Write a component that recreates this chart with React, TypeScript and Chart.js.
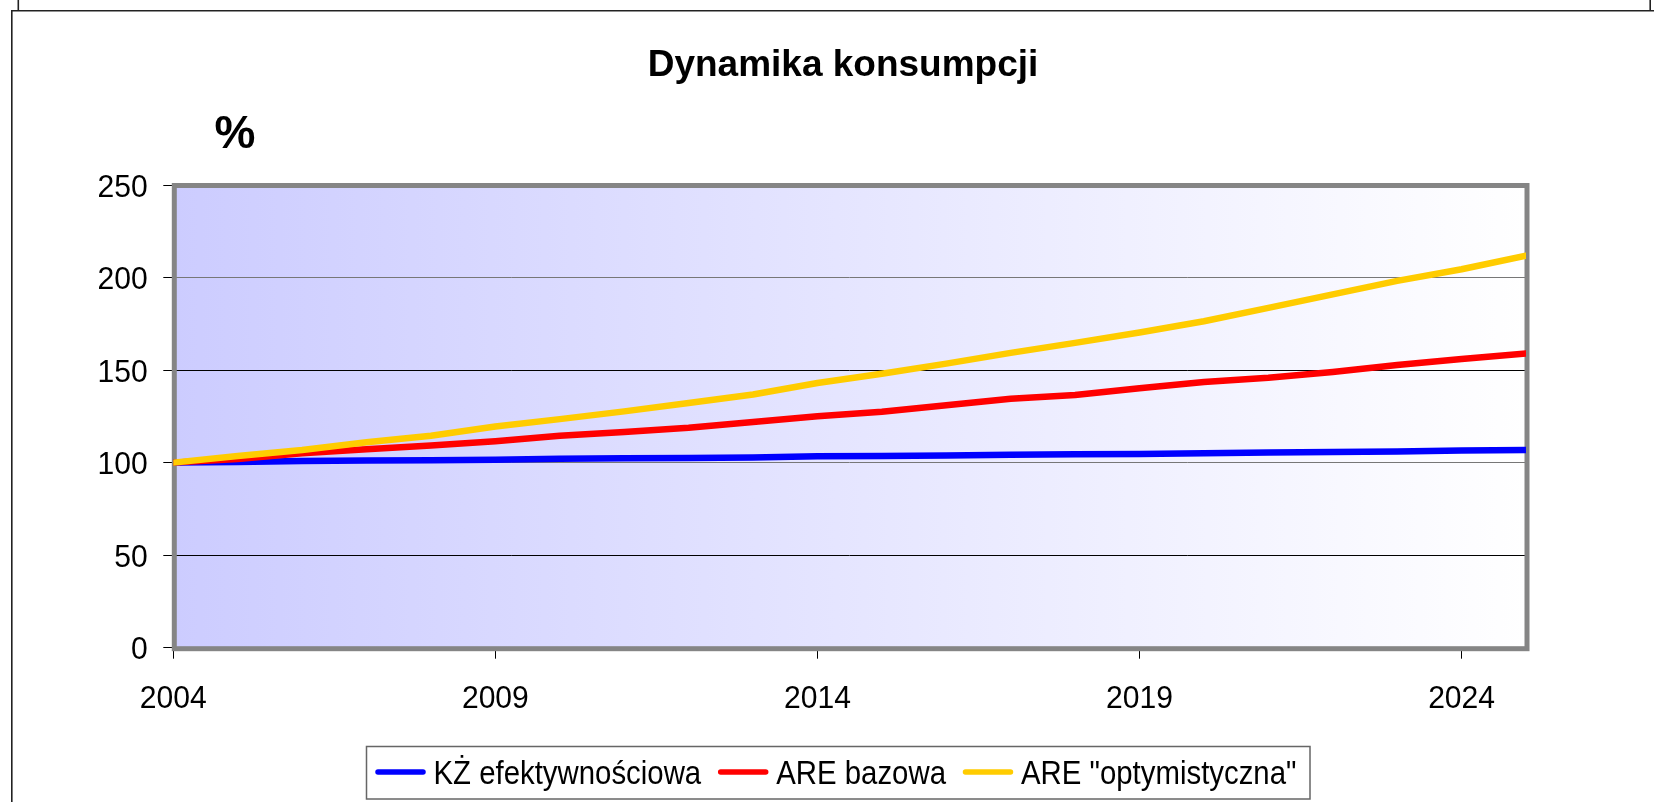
import React, { useEffect, useRef } from 'react';
import { Chart, registerables } from 'chart.js';

Chart.register(...registerables);

// ---------- data ----------
const years = [2004, 2005, 2006, 2007, 2008, 2009, 2010, 2011, 2012, 2013, 2014, 2015, 2016, 2017, 2018, 2019, 2020, 2021, 2022, 2023, 2024, 2025];
const kzEfektywnosciowa = [100.0, 100.3, 100.9, 101.1, 101.3, 101.5, 102.1, 102.3, 102.5, 102.8, 103.4, 103.6, 103.8, 104.2, 104.5, 104.7, 105.0, 105.5, 105.7, 106.0, 106.6, 106.8];
const areBazowa = [100.0, 102.0, 105.0, 107.2, 109.2, 111.5, 114.5, 116.5, 118.8, 122.0, 125.0, 127.5, 131.0, 134.5, 136.5, 140.2, 143.5, 145.8, 149.0, 152.7, 156.0, 159.0];
const areOptymistyczna = [100.0, 103.6, 106.8, 111.0, 114.5, 119.5, 123.5, 127.7, 132.2, 136.8, 143.0, 148.0, 153.5, 159.3, 164.7, 170.3, 176.4, 183.6, 190.9, 198.2, 204.5, 211.8];

const xTickYears = [2004, 2009, 2014, 2019, 2024];
const yTickValues = [0, 50, 100, 150, 200, 250];

const TITLE = 'Dynamika konsumpcji';
const UNIT_LABEL = '%';
const seriesLabels = ['KŻ efektywnościowa', 'ARE bazowa', 'ARE "optymistyczna"'];
const seriesColors = ['#0000FF', '#FF0000', '#FFCC00'];

const FONT = '"Liberation Sans", Arial, Helvetica, sans-serif';

const W = 1654;
const H = 802;

function condensedText(ctx: any, text: string, x: number, y: number, align: 'left' | 'right' | 'center', sx: number) {
  const w = ctx.measureText(text).width * sx;
  let left = x;
  if (align === 'right') left = x - w;
  else if (align === 'center') left = x - w / 2;
  ctx.save();
  ctx.translate(left, y);
  ctx.scale(sx, 1);
  ctx.textAlign = 'left';
  ctx.fillText(text, 0, 0);
  ctx.restore();
  return w;
}

const decorPlugin = {
  id: 'decor',
  beforeDraw(chart: any) {
    const { ctx, chartArea: a } = chart;
    ctx.save();
    ctx.fillStyle = '#ffffff';
    ctx.fillRect(0, 0, chart.width, chart.height);
    const g = ctx.createLinearGradient(a.left, 0, a.right, 0);
    g.addColorStop(0, '#CCCCFF');
    g.addColorStop(1, '#FFFFFF');
    ctx.fillStyle = g;
    ctx.fillRect(a.left, a.top, a.right - a.left, a.bottom - a.top);
    ctx.restore();
  },
  beforeDatasetsDraw(chart: any) {
    const { ctx, chartArea: a } = chart;
    ctx.save();
    ctx.strokeStyle = '#858585';
    ctx.lineWidth = 5;
    ctx.strokeRect(a.left + 1, a.top + 0.5, a.right - a.left, a.bottom - a.top + 0.5);
    ctx.restore();
  },
  afterDraw(chart: any) {
    const { ctx, chartArea: a } = chart;
    ctx.save();
    // outer frame
    ctx.strokeStyle = '#222';
    ctx.lineWidth = 1.6;
    ctx.beginPath();
    ctx.moveTo(11, 10.8);
    ctx.lineTo(W, 10.8);
    ctx.moveTo(11.8, 10.8);
    ctx.lineTo(11.8, H);
    ctx.moveTo(18.3, 0);
    ctx.lineTo(18.3, 10.8);
    ctx.moveTo(1650.2, 0);
    ctx.lineTo(1650.2, 10.8);
    ctx.stroke();

    ctx.fillStyle = '#000';
    ctx.textBaseline = 'alphabetic';

    // tick labels (from the scales' ticks)
    ctx.font = `32px ${FONT}`;
    const ys = chart.scales.y;
    ys.ticks.forEach((t: any) => {
      const py = ys.getPixelForValue(t.value);
      condensedText(ctx, String(t.value), a.left - 25.5, py + 11.5, 'right', 0.94);
    });
    const xs = chart.scales.x;
    xs.ticks.forEach((t: any) => {
      const px = xs.getPixelForValue(t.value);
      condensedText(ctx, String(t.value), px, 707.5, 'center', 0.94);
    });

    // title
    ctx.font = `bold 37px ${FONT}`;
    condensedText(ctx, TITLE, 843, 76, 'center', 1);

    // unit label
    ctx.font = `bold 46px ${FONT}`;
    condensedText(ctx, UNIT_LABEL, 214.5, 148, 'left', 1);

    // legend
    const boxL = 366.5, boxT = 746.5, boxR = 1310, boxB = 799;
    ctx.fillStyle = '#fff';
    ctx.fillRect(boxL, boxT, boxR - boxL, boxB - boxT);
    ctx.strokeStyle = '#666';
    ctx.lineWidth = 1.5;
    ctx.strokeRect(boxL, boxT, boxR - boxL, boxB - boxT);
    ctx.font = `33px ${FONT}`;
    let x = 375.5;
    const lineY = 772;
    chart.data.datasets.forEach((ds: any) => {
      ctx.strokeStyle = ds.borderColor;
      ctx.lineWidth = 5.5;
      ctx.lineCap = 'round';
      ctx.beginPath();
      ctx.moveTo(x + 2.5, lineY);
      ctx.lineTo(x + 47.5, lineY);
      ctx.stroke();
      ctx.fillStyle = '#000';
      const w = condensedText(ctx, ds.label, x + 58, 783.5, 'left', 0.89);
      x += 58 + w + 17;
    });
    ctx.restore();
  },
};

export default function App() {
  const canvasRef = useRef<HTMLCanvasElement | null>(null);

  useEffect(() => {
    const canvas = canvasRef.current;
    if (!canvas) return;
    const seriesValues = [kzEfektywnosciowa, areBazowa, areOptymistyczna];
    const orders = [3, 2, 1];
    const chart = new Chart(canvas, {
      type: 'line',
      data: {
        datasets: seriesValues.map((vals, i) => ({
          label: seriesLabels[i],
          data: years.map((yr, j) => ({ x: yr, y: vals[j] })),
          borderColor: seriesColors[i],
          backgroundColor: seriesColors[i],
          borderWidth: 6.5,
          pointRadius: 0,
          pointHoverRadius: 0,
          borderCapStyle: 'round',
          borderJoinStyle: 'round',
          tension: 0,
          fill: false,
          order: orders[i],
        })),
      },
      options: {
        responsive: false,
        animation: false,
        devicePixelRatio: 1,
        layout: { padding: { top: 185, right: 128, left: 0, bottom: 0 } },
        plugins: {
          legend: { display: false },
          title: { display: false },
          tooltip: { enabled: false },
        },
        scales: {
          x: {
            type: 'linear',
            min: years[0],
            max: years[years.length - 1],
            afterBuildTicks: (s: any) => {
              s.ticks = xTickYears.map((v) => ({ value: v }));
            },
            afterFit: (s: any) => {
              s.height = 154.3;
            },
            grid: {
              drawOnChartArea: false,
              drawTicks: true,
              tickLength: 11,
              color: '#000',
              tickColor: '#000',
              lineWidth: 1,
            },
            border: { display: false },
            ticks: {
              display: false,
              autoSkip: false,
              maxRotation: 0,
              minRotation: 0,
            },
          },
          y: {
            type: 'linear',
            min: yTickValues[0],
            max: yTickValues[yTickValues.length - 1],
            afterBuildTicks: (s: any) => {
              s.ticks = yTickValues.map((v) => ({ value: v }));
            },
            afterFit: (s: any) => {
              s.width = 173.3;
            },
            grid: {
              drawTicks: true,
              tickLength: 10,
              tickColor: '#000',
              lineWidth: 1,
              color: (ctx: any) => (ctx.tick && (ctx.tick.value === 100 || ctx.tick.value === 200) ? '#777' : '#000'),
            },
            border: { display: false },
            ticks: {
              display: false,
            },
          },
        },
      } as any,
      plugins: [decorPlugin],
    });
    return () => chart.destroy();
  }, []);

  return (
    <div style={{ position: 'fixed', left: 0, top: 0, width: W, height: H, background: '#fff' }}>
      <canvas ref={canvasRef} width={W} height={H} style={{ display: 'block', width: W, height: H }} />
    </div>
  );
}
